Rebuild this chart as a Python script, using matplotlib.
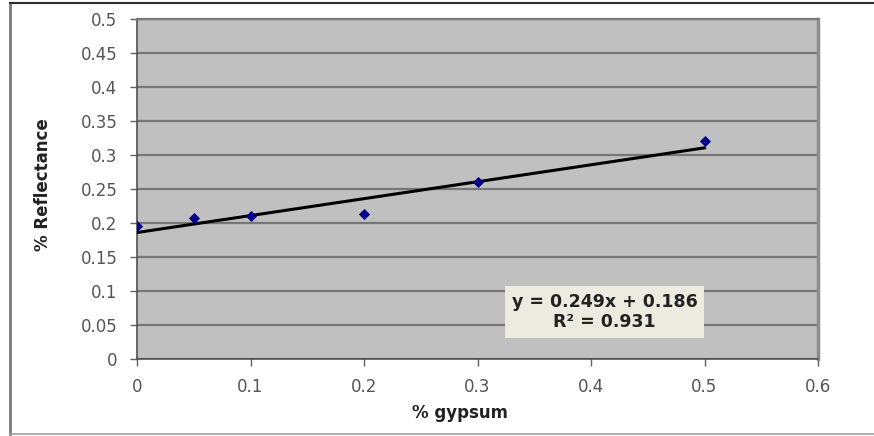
import matplotlib
matplotlib.use("Agg")
import matplotlib.pyplot as plt
from matplotlib.lines import Line2D
import numpy as np

# data
gypsum = [0, 0.05, 0.1, 0.2, 0.3, 0.5]
reflectance = [0.195, 0.207, 0.211, 0.213, 0.261, 0.321]
slope, intercept, r2 = 0.249, 0.186, 0.931

x_ticks = [0, 0.1, 0.2, 0.3, 0.4, 0.5, 0.6]
x_tick_labels = ["0", "0.1", "0.2", "0.3", "0.4", "0.5", "0.6"]
y_ticks = [0, 0.05, 0.1, 0.15, 0.2, 0.25, 0.3, 0.35, 0.4, 0.45, 0.5]
y_tick_labels = ["0", "0.05", "0.1", "0.15", "0.2", "0.25", "0.3", "0.35", "0.4", "0.45", "0.5"]

plt.rcParams["font.family"] = ["DejaVu Sans"]

W, H = 874, 436
fig = plt.figure(figsize=(W / 100, H / 100), dpi=100)
fig.patch.set_facecolor("white")

# outer chart border (left, top, bottom)
fig.add_artist(Line2D([10 / W, 10 / W], [2 / H, 1 - 3 / H], color="#7a7a7a", lw=2))
fig.add_artist(Line2D([10 / W, 1], [1 - 3 / H, 1 - 3 / H], color="#303030", lw=1.5))
fig.add_artist(Line2D([10 / W, 1], [2 / H, 2 / H], color="#a0a0a0", lw=1.2))

left, right, top, bottom = 137, 818, 19, 359
ax = fig.add_axes([left / W, 1 - bottom / H, (right - left) / W, (bottom - top) / H])
ax.set_facecolor("#c0c0c0")

ax.set_xlim(0, 0.6)
ax.set_ylim(0, 0.5)
ax.set_xticks(x_ticks)
ax.set_xticklabels(x_tick_labels)
ax.set_yticks(y_ticks)
ax.set_yticklabels(y_tick_labels)

ax.yaxis.grid(True, color="#777777", lw=1.6)
ax.set_axisbelow(True)

for side in ["left", "bottom"]:
    ax.spines[side].set_color("#505050")
    ax.spines[side].set_linewidth(1.2)
ax.spines["top"].set_color("#777777")
ax.spines["top"].set_linewidth(1.6)
ax.spines["right"].set_color("#8c8c8c")
ax.spines["right"].set_linewidth(2.5)

ax.tick_params(axis="both", direction="out", length=5, width=1, color="#606060",
               labelcolor="#555555", labelsize=12)
ax.tick_params(axis="y", pad=9)
ax.tick_params(axis="x", pad=9)

# trendline
xt = np.array([0, 0.5])
ax.plot(xt, slope * xt + intercept, color="black", lw=2.2, zorder=3)

# points
ax.scatter(gypsum, reflectance, marker="D", s=32, color="#00008b", zorder=4, lw=0)

ax.text(0.412, 0.069, f"y = {slope}x + {intercept}\nR² = {r2}",
        ha="center", va="center", fontsize=12.5, fontweight="bold", color="#222222",
        linespacing=1.1,
        bbox=dict(boxstyle="square,pad=0.4", fc="#ecebdf", ec="none"), zorder=5)

ax.set_xlabel("% gypsum", fontsize=12, fontweight="bold", color="#222222")
ax.set_ylabel("% Reflectance", fontsize=12, fontweight="bold", color="#222222")
ax.xaxis.set_label_coords((460 - left) / (right - left), -(404 - bottom) / (bottom - top))
ax.yaxis.set_label_coords(-(137 - 52) / (right - left), 0.5 + (189 - 185) / (bottom - top))

fig.savefig("out.png", dpi=100)
